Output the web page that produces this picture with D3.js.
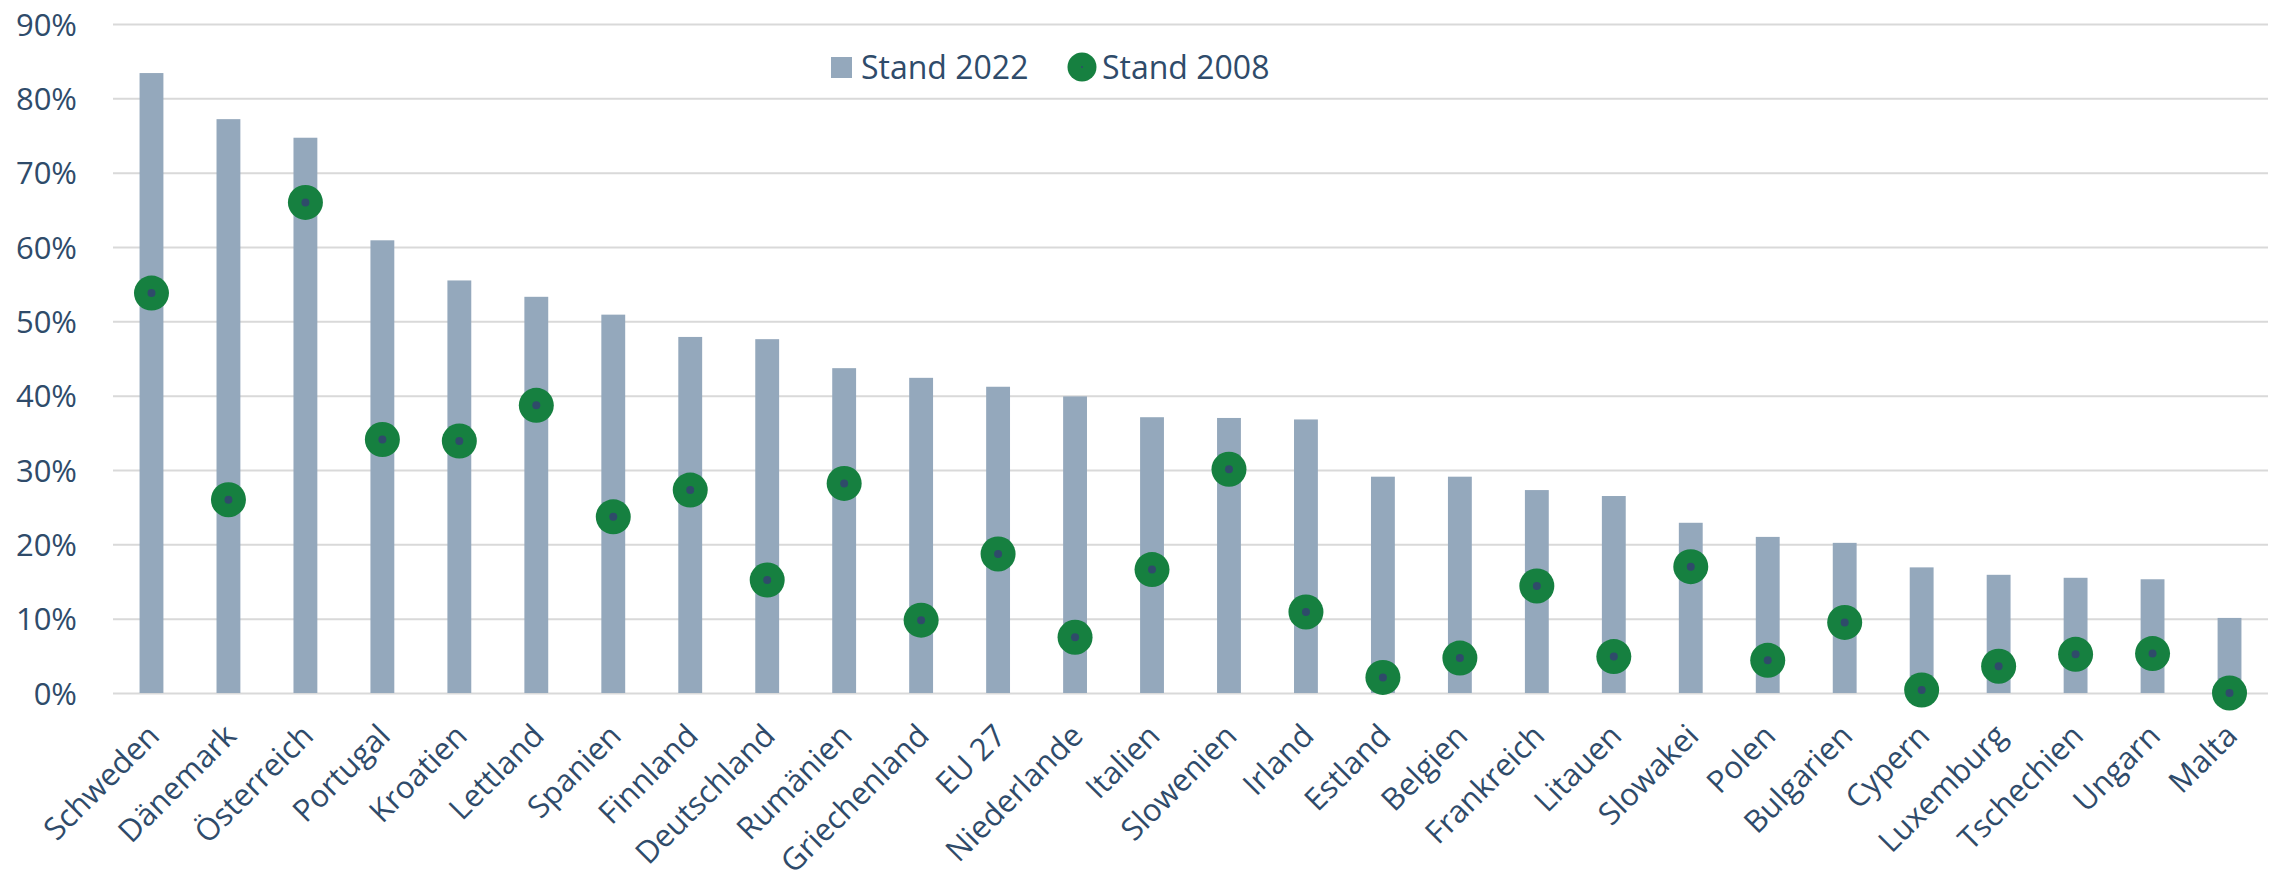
<!DOCTYPE html>
<html lang="de">
<head>
<meta charset="utf-8">
<script src="https://cdn.jsdelivr.net/npm/d3@7/dist/d3.min.js"></script>
<style>
  html, body { margin: 0; padding: 0; background: #ffffff; }
  svg { display: block; }
  text { font-family: "Open Sans", "Noto Sans", sans-serif; fill: #2f4b6a; }
</style>
</head>
<body>
<svg id="chart" width="2272" height="882"></svg>
<script>
// Länder, sortiert nach dem Anteil 2022
const countries = [
  "Schweden", "Dänemark", "Österreich", "Portugal", "Kroatien", "Lettland",
  "Spanien", "Finnland", "Deutschland", "Rumänien", "Griechenland", "EU 27",
  "Niederlande", "Italien", "Slowenien", "Irland", "Estland", "Belgien",
  "Frankreich", "Litauen", "Slowakei", "Polen", "Bulgarien", "Cypern",
  "Luxemburg", "Tschechien", "Ungarn", "Malta"
];

// Anteil in Prozent, Stand 2022 (Säulen)
const stand2022 = [
  83.4, 77.2, 74.7, 60.9, 55.5, 53.3,
  50.9, 47.9, 47.6, 43.7, 42.4, 41.2,
  39.9, 37.1, 37.0, 36.8, 29.1, 29.1,
  27.3, 26.5, 22.9, 21.0, 20.2, 16.9,
  15.9, 15.5, 15.3, 10.1
];

// Anteil in Prozent, Stand 2008 (Punkte)
const stand2008 = [
  53.8, 26.0, 66.0, 34.1, 33.9, 38.7,
  23.7, 27.3, 15.2, 28.2, 9.8, 18.7,
  7.5, 16.6, 30.1, 10.9, 2.1, 4.7,
  14.4, 4.9, 17.0, 4.4, 9.5, 0.4,
  3.6, 5.2, 5.3, 0.0
];

// Achsenbeschriftung
const yTicks = [0, 10, 20, 30, 40, 50, 60, 70, 80, 90];
const seriesNames = ["Stand 2022", "Stand 2008"];

const colors = {
  bar: "#94a8bc",
  dot: "#168040",
  dotCore: "#2f4b6a",
  grid: "#d9d9d9"
};

const svg = d3.select("#chart");
const plot = { left: 113, right: 2268, top: 24, bottom: 693 };

const x = d3.scaleBand()
  .domain(countries)
  .range([plot.left, plot.right])
  .padding(0);

const y = d3.scaleLinear()
  .domain([0, 90])
  .range([plot.bottom, plot.top]);

const barWidth = x.bandwidth() * 0.31;

// Gitternetzlinien
svg.append("g")
  .attr("class", "grid")
  .attr("transform", `translate(${plot.left},0)`)
  .call(d3.axisLeft(y).tickValues(yTicks).tickSize(-(plot.right - plot.left)).tickFormat(""))
  .call(g => g.select(".domain").remove())
  .call(g => g.selectAll("line").attr("stroke", colors.grid).attr("stroke-width", 2));

// Y-Achse mit Prozentwerten
svg.append("g")
  .attr("class", "y-axis")
  .attr("transform", `translate(${plot.left},0)`)
  .call(d3.axisLeft(y).tickValues(yTicks).tickSize(0).tickPadding(36).tickFormat(d => d + "%"))
  .call(g => g.select(".domain").remove())
  .call(g => g.selectAll("text")
    .style("font-size", "31px")
    .attr("fill", "#2f4b6a")
    .attr("dy", "0.36em"));

// Säulen 2022
svg.append("g")
  .selectAll("rect")
  .data(countries)
  .join("rect")
  .attr("x", d => x(d) + (x.bandwidth() - barWidth) / 2)
  .attr("width", barWidth)
  .attr("y", (d, i) => y(stand2022[i]))
  .attr("height", (d, i) => y(0) - y(stand2022[i]))
  .attr("fill", colors.bar);

// Punkte 2008
const dots = svg.append("g")
  .selectAll("g")
  .data(countries)
  .join("g")
  .attr("transform", (d, i) => `translate(${x(d) + x.bandwidth() / 2},${y(stand2008[i])})`);
dots.append("circle").attr("r", 17.5).attr("fill", colors.dot);
dots.append("circle").attr("r", 4).attr("fill", colors.dotCore);

// X-Achse mit schräg gestellten Ländernamen
svg.append("g")
  .attr("class", "x-axis")
  .attr("transform", `translate(0,${plot.bottom})`)
  .call(d3.axisBottom(x).tickSize(0))
  .call(g => g.select(".domain").remove())
  .call(g => g.selectAll("text")
    .style("font-size", "31px")
    .attr("fill", "#2f4b6a")
    .attr("text-anchor", "end")
    .attr("x", 0)
    .attr("y", 0)
    .attr("dy", "0.35em")
    .attr("transform", "translate(2,37) rotate(-45)"));

// Legende
const legend = svg.append("g").attr("class", "legend");
legend.append("rect")
  .attr("x", 831).attr("y", 57)
  .attr("width", 21).attr("height", 21)
  .attr("fill", colors.bar);
legend.append("text")
  .attr("x", 861).attr("y", 67.5).attr("dy", "0.36em")
  .style("font-size", "32px")
  .text(seriesNames[0]);
legend.append("circle")
  .attr("cx", 1082).attr("cy", 67).attr("r", 14.5)
  .attr("fill", colors.dot);
legend.append("circle")
  .attr("cx", 1082).attr("cy", 67).attr("r", 1)
  .attr("fill", colors.dotCore);
legend.append("text")
  .attr("x", 1102).attr("y", 67.5).attr("dy", "0.36em")
  .style("font-size", "32px")
  .text(seriesNames[1]);
</script>
</body>
</html>
